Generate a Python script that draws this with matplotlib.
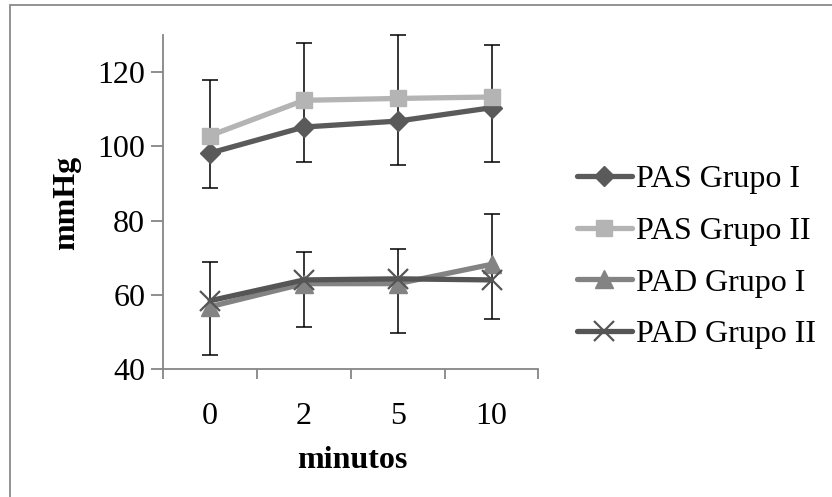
import matplotlib
matplotlib.use("Agg")
import matplotlib.pyplot as plt
from matplotlib.patches import Rectangle
import numpy as np

# ---- data ----
categories = ["0", "2", "5", "10"]
pas_grupo_i = [98.2, 105.2, 106.8, 110.4]
pas_grupo_ii = [102.9, 112.4, 112.9, 113.3]
pad_grupo_i = [56.8, 63.0, 63.0, 68.2]
pad_grupo_ii = [58.4, 64.0, 64.3, 64.0]
# error bar extents (upper from one group, lower from the other)
pas_err_plus = [15.0, 15.5, 17.1, 14.0]    # above PAS Grupo II
pas_err_minus = [9.3, 9.4, 11.9, 14.6]     # below PAS Grupo I
pad_err_plus = [12.0, 8.5, 9.4, 13.6]      # above PAD Grupo I
pad_err_minus = [14.6, 12.6, 14.7, 10.6]   # below PAD Grupo II
y_ticks = [40, 60, 80, 100, 120]

plt.rcParams["font.family"] = ["Liberation Serif", "DejaVu Serif"]
FS = 23

fig = plt.figure(figsize=(8.32, 4.97), dpi=100)
ax = fig.add_axes([163.3 / 832, 1 - 369 / 497, (538.4 - 163.3) / 832, (369 - 35) / 497])

x = np.arange(len(categories))

# error bars
pas1 = np.array(pas_grupo_i); pas2 = np.array(pas_grupo_ii)
pad1 = np.array(pad_grupo_i); pad2 = np.array(pad_grupo_ii)
pas_top = pas2 + np.array(pas_err_plus)
pas_bot = pas1 - np.array(pas_err_minus)
pad_top = pad1 + np.array(pad_err_plus)
pad_bot = pad2 - np.array(pad_err_minus)
for top, bot in [(pas_top, pas_bot), (pad_top, pad_bot)]:
    mid = (top + bot) / 2
    ax.errorbar(x, mid, yerr=[mid - bot, top - mid], fmt="none", ecolor="black",
                elinewidth=1.1, capsize=5.5, capthick=1.1, zorder=2, clip_on=False)

lw = 3.8
h1, = ax.plot(x, pas_grupo_i, color="#5a5a5a", lw=lw, marker="D", ms=10.5,
              mfc="#5a5a5a", mec="#5a5a5a", solid_capstyle="round", zorder=3, label="PAS Grupo I")
h2, = ax.plot(x, pas_grupo_ii, color="#b4b4b4", lw=lw, marker="s", ms=12,
              mfc="#b4b4b4", mec="#b4b4b4", solid_capstyle="round", zorder=3, label="PAS Grupo II")
h3, = ax.plot(x, pad_grupo_i, color="#838383", lw=lw, marker="^", ms=13,
              mfc="#838383", mec="#838383", solid_capstyle="round", zorder=3, label="PAD Grupo I")
h4, = ax.plot(x, pad_grupo_ii, color="#555555", lw=lw, marker="x", ms=14, mew=1.6,
              mec="#555555", solid_capstyle="round", zorder=4, label="PAD Grupo II")

ax.set_xlim(-0.5, len(categories) - 0.5)
ax.set_ylim(40, 130)
ax.set_yticks(y_ticks)
ax.set_xticks(x)
ax.set_xticklabels(categories)
ax.set_xticks(np.arange(-0.5, len(categories), 1.0), minor=True)
ax.tick_params(axis="x", which="major", length=0, pad=24, labelsize=FS)
ax.tick_params(axis="x", which="minor", length=7, width=1.3, color="#868686", direction="out")
ax.tick_params(axis="y", length=9, width=1.3, color="#868686", direction="out", pad=4, labelsize=FS)

for s in ["top", "right"]:
    ax.spines[s].set_visible(False)
for s in ["left", "bottom"]:
    ax.spines[s].set_color("#868686")
    ax.spines[s].set_linewidth(1.3)

fig.text(352 / 832, 1 - 460 / 497, "minutos", ha="center", va="center",
         fontsize=FS, fontweight="bold")
fig.text(66.7 / 832, 1 - 203 / 497, "mmHg", ha="center", va="center",
         fontsize=FS, fontweight="bold", rotation=90)

leg = fig.legend(handles=[h1, h2, h3, h4], loc="center left",
                 bbox_to_anchor=(576.7 / 832, 1 - 257 / 497), frameon=False,
                 fontsize=FS, handlelength=1.72, handletextpad=0.15,
                 labelspacing=0.7, borderpad=0, borderaxespad=0)

# outer chart border (only top/left are visible in the crop)
fig.patches.append(Rectangle((10 / 832, -0.2), 1.2, 1.2 - 5 / 497,
                             transform=fig.transFigure, fill=False,
                             edgecolor="#8a8a8a", lw=1.3))

fig.savefig("out.png", dpi=100)
